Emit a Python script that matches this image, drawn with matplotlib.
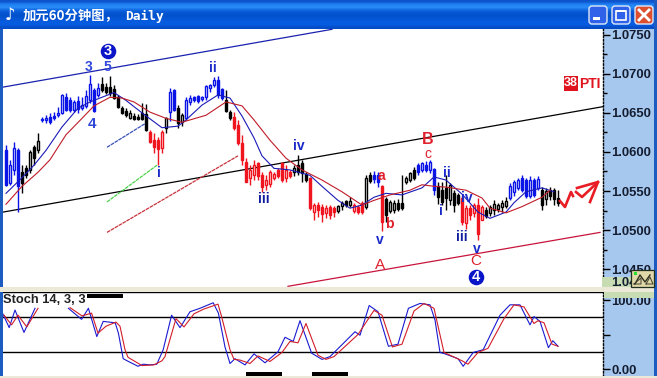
import numpy as np
import matplotlib
matplotlib.use("Agg")
import matplotlib.pyplot as plt
from matplotlib.patches import Rectangle, FancyBboxPatch
from matplotlib.ticker import FixedLocator

W, H = 657, 378

# Candles: (high, low, open, close) in pips above 1.0000, one run per colour
blue_a = [(609,556,602,558),(590,558,560,583),(613,570,577,605),(605,523,602,556)]
black_a = [(583,547,574,560),(583,567,579,570),(602,573,577,600),(609,583,606,592),(624,599,602,614)]
blue_b = [(645,638,641,642),(647,637,641,643),(650,636,645,638),(651,641,646,643),(658,645,647,650),
          (674,649,650,673),(676,652,670,654),(670,651,666,654),(666,651,654,664),(672,650,665,655),
          (670,654,656,660),(679,656,659,672),(698,663,666,687),(682,651,679,652),(688,670,673,682)]
black_b = [(696,677,687,679),(688,674,683,677),(697,672,683,676),(686,668,681,669),(673,656,670,658),
           (659,649,656,650),(656,645,652,647),(654,642,643,650),(650,641,646,642),(649,641,645,642),
           (663,641,650,642),(661,627,649,628)]
red_a = [(628,611,626,613),(624,599,615,606),(619,583,615,604),(628,599,605,626)]
black_c = [(645,624,631,643)]
blue_c = [(682,640,651,677),(681,652,679,654)]
black_d = [(660,631,656,637),(650,633,638,647)]
blue_d = [(670,641,643,666),(673,660,664,669),(672,664,670,666),(673,663,672,665),(672,665,668,670),
          (686,666,670,685),(687,677,682,686),(696,683,686,692),(697,669,692,673),(682,666,681,669)]
black_e = [(679,651,666,652),(654,641,651,643)]
red_b = [(651,628,645,631),(641,609,635,611),(622,583,611,590),(592,562,587,562),(583,558,567,577),
         (590,564,570,583),(587,564,586,569),(574,549,570,555),(570,551,558,564),(577,555,559,574),
         (574,564,567,572),(579,567,577,569),(587,562,586,564),(583,562,567,577),(577,567,574,569)]
black_f = [(583,569,574,579),(596,570,583,574),(590,562,586,573),(574,562,572,564)]
red_c = [(568,526,567,528),(535,513,523,532),(536,517,532,526),(533,510,530,521),(532,515,522,528),
         (532,514,530,519),(531,517,528,523)]
black_g = [(532,522,524,531),(537,526,531,535),(538,530,537,532),(542,530,532,537)]
red_d = [(535,522,524,532),(532,521,530,523),(537,521,535,523)]
black_h = [(570,527,530,567),(574,560,570,563)]
blue_e = [(576,560,570,565),(574,555,570,562)]
red_e = [(558,499,556,510)]
black_i = [(542,510,540,519),(538,522,524,536),(538,522,526,535),(540,524,535,527),(570,526,535,528),
           (569,559,562,567),(574,562,564,573),(581,564,577,567)]
blue_f = [(586,570,583,574),(587,574,577,586),(588,574,583,577),(590,573,577,587),(579,545,578,551)]
black_j = [(562,533,556,542),(562,532,551,536),(570,526,554,541),(560,532,538,558),(551,523,547,532),
           (547,532,545,535)]
red_f = [(545,506,541,510),(532,501,509,528),(532,513,528,519),(535,517,522,532),(541,487,532,495),
         (532,513,513,530)]
black_k = [(530,515,526,518),(532,518,522,530),(538,519,526,533),(535,523,527,532),(538,523,530,535),
           (542,528,531,537)]
blue_g = [(560,538,541,556),(564,544,549,562),(567,551,554,564),(570,549,567,551),(567,541,564,544),
          (569,541,544,564),(567,542,564,545),(569,551,554,565)]
black_l = [(555,526,551,532),(554,532,540,550),(555,538,551,544),(554,532,551,540),(551,531,541,535)]

BLUE, BLACK, RED = "#0a14e6", "#000000", "#f0141e"
runs = [(blue_a,BLUE),(black_a,BLACK),(blue_b,BLUE),(black_b,BLACK),(red_a,RED),(black_c,BLACK),(blue_c,BLUE),
        (black_d,BLACK),(blue_d,BLUE),(black_e,BLACK),(red_b,RED),(black_f,BLACK),(red_c,RED),(black_g,BLACK),
        (red_d,RED),(black_h,BLACK),(blue_e,BLUE),(red_e,RED),(black_i,BLACK),(blue_f,BLUE),(black_j,BLACK),
        (red_f,RED),(black_k,BLACK),(blue_g,BLUE),(black_l,BLACK)]

# Moving averages: (bar number, pips)
ma_fast_bar = [1,5,8,11,15,19,22,26,28,31,35,40,44,46,50,54,57,60,63,65,68,72,77,80,84,87,90,93,96,100,105,108,111,115,119,122,126,128,131,135,138]
ma_fast_val = [547,567,583,602,632,656,664,672,676,666,650,631,633,641,660,673,669,646,618,595,579,577,570,556,538,528,532,542,547,545,554,568,564,546,523,515,523,535,549,554,549]
ma_slow_bar = [1,5,9,12,16,20,23,27,30,33,37,41,45,47,51,56,60,63,67,71,75,80,85,90,93,97,102,105,108,111,116,120,122,126,130,135,137]
ma_slow_val = [533,556,574,590,622,643,659,670,669,664,651,643,638,641,647,664,659,641,615,592,577,564,549,532,538,545,551,558,556,555,551,541,528,522,530,542,551]

# Trend lines: ((bar, bar), (pips, pips))
line_upper = ((0.25, 82.5), (683, 757))
line_mid = ((0.25, 150.25), (523, 658))
line_lower = ((71.5, 149.5), (428, 497))
ray_blue = ((26.25, 36), (606, 637))
ray_green = ((26.25, 38.75), (536, 583))
ray_red = ((26.25, 59), (497, 595))

# Stochastic
k_bar_a = [0.2,1.8,3.25,5.5,8.25]
k_val_a = [80,60,85.5,53,88]
k_bar_b = [16.6,19.9,21.6,23.7,25.3,28.3,29.1,30.3,31.6,34,35.3,37,38.7,40.3,42.4,44.5,47,49.5,52.8,54.1,55.75,57,58.25,60.75,63,65.75,69,70.75,72.8,74.5,77.4,80,82,88.25,89.5,91.8,94,96.6,99,101.6,104.5,107,108.25,109.5,110.75,114,115.3,117.8,120.3,124.5,127,129.5,132,133,134.5,136.6,137.7,139]
k_val_b = [88,72,88,47,69,67,52,15,11,4,7,6,7,28,78,60,83,88,96,81,32,8,15,6,22,9,25,46,40,70,23,14,18,54,49,92,83,33,36,88,95,93,71,24,22,15,4,24,28,78,93,93,64,76,69,31,41,33]
d_bar_a = [0.5,2.4,4,6.2,9]
d_val_a = [78,64,78,61,88]
d_bar_b = [17,20,22.4,24,26,28.5,29.5,30.75,31.5,35,38,40,40.75,43.5,45.5,48,50.5,54,54.9,57,58,59.5,62,64,67,70,72,74,76,79,81,83,89,93,95,97.6,100,103,105.5,108,108.7,110.5,115,116.5,119,121.5,125.5,128,130.5,133,134,135.5,137.5,139]
d_val_b = [89,77,81,52,62,68,62,28,17,5,6,12,18,73,61,80,87,94,76,28,14,13,8,19,11,24,40,38,66,20,14,18,50,85,78,32,36,84,95,88,70,24,12,7,24,30,73,93,90,66,70,67,36,33]
stoch_levels = [76, 24]

price_ticks = [1.0750,1.0700,1.0650,1.0600,1.0550,1.0500,1.0450]

plt.rcParams["font.family"] = ["Liberation Sans", "DejaVu Sans"]
fig = plt.figure(figsize=(W/100, H/100), dpi=100, facecolor="#a6c8ee")

def pix_axes(x0, y0, x1, y1, **kw):
    return fig.add_axes([x0/W, 1-y1/H, (x1-x0)/W, (y1-y0)/H], **kw)

ax = pix_axes(3, 29, 603, 287)
ax.set_xlim(0.25, 150.25)
ax.set_ylim(1.04271, 1.07574)
sx = pix_axes(3, 292, 603, 376)
sx.set_xlim(0.25, 150.25)
sx.set_ylim(-10.1, 111.6)

px = lambda v: 1 + np.asarray(v) / 1e4

k = 0
for rows, col in runs:
    for h, l, o, c in rows:
        k += 1
        ax.vlines(k, px(l), px(h), color=col, lw=1.0, zorder=3)
        fill = col if c < o else "white"
        ax.bar(k, px(max(o, c)) - px(min(o, c)), bottom=px(min(o, c)), width=0.72,
               facecolor=fill, edgecolor=col, lw=1.0, zorder=4)

ax.plot(ma_fast_bar, px(ma_fast_val), color="#1a1ab8", lw=0.8, zorder=5)
ax.plot(ma_slow_bar, px(ma_slow_val), color="#c01c28", lw=0.8, zorder=5)
ax.plot(line_upper[0], px(line_upper[1]), color="#1a22b0", lw=0.9, zorder=2)
ax.plot(line_mid[0], px(line_mid[1]), color="black", lw=0.9, zorder=2)
ax.plot(line_lower[0], px(line_lower[1]), color="#c8143c", lw=0.9, zorder=2)
ax.plot(ray_blue[0], px(ray_blue[1]), color="#3a50b8", lw=0.9, ls=(0, (3, 0.6)), zorder=2)
ax.plot(ray_green[0], px(ray_green[1]), color="#4bd24b", lw=0.9, ls=(0, (3, 0.6)), zorder=2)
ax.plot(ray_red[0], px(ray_red[1]), color="#c8323c", lw=0.9, ls=(0, (3, 0.6)), zorder=2)

for a in (ax, sx):
    a.set_facecolor("white")
    a.set_xticks([])
    a.yaxis.tick_right()
    for s in ("left", "bottom"):
        a.spines[s].set_visible(False)
    a.spines["right"].set_linestyle((0, (1, 1.5)))
    a.spines["right"].set_linewidth(1.0)
ax.spines["top"].set_visible(False)
sx.spines["top"].set_linewidth(1.0)

ax.set_yticks(price_ticks, [f"{t:.4f}" for t in price_ticks])
ax.yaxis.set_minor_locator(FixedLocator([t + 0.0025 for t in price_ticks[1:]] + [1.0725 + 0.005]))
sx.set_yticks([0, 50, 100, 110], ["0.00", "", "100.00", "110.00"])
for a in (ax, sx):
    a.tick_params(axis="y", which="major", length=5, width=1, pad=1, labelsize=9.4, labelcolor="#141c30")
    a.tick_params(axis="y", which="minor", length=3, width=1)
    for t in a.get_yticklabels():
        t.set_fontweight("bold")

for level in stoch_levels:
    sx.axhline(level, color="black", lw=1.0, zorder=1)
sx.plot(k_bar_a, k_val_a, color="#1a1ad2", lw=0.8, zorder=3)
sx.plot(k_bar_b, k_val_b, color="#1a1ad2", lw=0.8, zorder=3)
sx.plot(d_bar_a, d_val_a, color="#d21e28", lw=0.8, zorder=4)
sx.plot(d_bar_b, d_val_b, color="#d21e28", lw=0.8, zorder=4)

# Front layer in figure pixels: window chrome and annotations
fg = fig.add_axes([0, 0, 1, 1], zorder=10)
fg.patch.set_alpha(0)
fg.axis("off")
grad = np.array([[0.05,0.33,0.80],[0.12,0.50,0.95],[0.16,0.55,0.97],[0.06,0.40,0.88],[0.02,0.33,0.82],
                 [0.01,0.32,0.80],[0.02,0.34,0.84],[0.03,0.36,0.87],[0.03,0.36,0.88],[0.02,0.30,0.78]])[:, None, :]
fg.imshow(grad, extent=(0, W, 29, 0), aspect="auto", interpolation="bilinear", zorder=1)
fg.set_xlim(0, W)
fg.set_ylim(H, 0)

R = lambda x, y, w, h, c, z=2: fg.add_patch(Rectangle((x, y), w, h, facecolor=c, edgecolor="none", zorder=z))
R(0, 29, 3, 349, "#1c5cc0")
R(654, 0, 3, 378, "#1c5cc0")
R(0, 376, 657, 2, "#ece9d8")
R(0, 287, 654, 5, "#ece9d8", 6)
R(602, 277, 52, 10, "#c8dcb4", 3)
R(604, 292, 50, 6, "#c8dcb4", 3)
fg.text(611, 283, "1.04", fontsize=9.4, fontweight="bold", color="#141c30", va="center", zorder=4)
# Chart-window icon
R(631, 270, 23, 17, "#e0d8a8", 7)
fg.add_patch(Rectangle((631, 270), 22.5, 16.5, facecolor="none", edgecolor="#203020", lw=0.9, zorder=8))
R(634, 272, 3, 3, "#28e030", 9)
fg.plot([635, 640, 645, 650], [284, 275, 282, 275], color="#303020", lw=1.0, zorder=9)
fg.plot([634, 641, 641, 634], [284, 284, 278, 284], color="#404030", lw=0.7, zorder=9)
fg.plot([646, 653, 650, 646], [284, 284, 277, 284], color="#404030", lw=0.7, zorder=9)

# Title bar
fg.text(10, 15.5, "♪", family="DejaVu Sans", fontsize=12, fontweight="bold", color="white", ha="center", va="center", zorder=3)
fg.text(23, 16, "加元60分钟图，", family="Noto Sans CJK SC", fontsize=9.6, fontweight="bold", color="white", va="center", zorder=3)
fg.text(125, 16, "Daily", family="DejaVu Sans Mono", fontsize=9.3, fontweight="bold", color="white", va="center", zorder=3)

for x0, col in ((589, "#2f62e8"), (612, "#2f62e8"), (635, "#dc5030")):
    fg.add_patch(FancyBboxPatch((x0, 6), 18, 18, boxstyle="round,pad=0,rounding_size=3",
                                facecolor=col, edgecolor="#dfe8f8", lw=1.0, zorder=3))
R(593, 17, 7, 3, "white", 4)
fg.add_patch(Rectangle((616, 11), 10, 9, facecolor="none", edgecolor="white", lw=1.2, zorder=4))
R(616, 10, 10, 2, "white", 4)
fg.plot([639, 649], [10, 20], color="white", lw=2, zorder=4)
fg.plot([649, 639], [10, 20], color="white", lw=2, zorder=4)

# Wave labels: text, x, y, colour, size, bold
WBLUE, WRED, SOFT = "#1a2ac8", "#e0202c", "#3048d8"
labels = [("3", 89, 67, SOFT, 10, True), ("5", 107, 67, SOFT, 10, True), ("4", 92, 124, SOFT, 11, True),
          ("ii", 213, 68, WBLUE, 10, True), ("i", 159, 173, WBLUE, 10, True), ("iv", 299, 146, WBLUE, 10, True),
          ("iii", 264, 199, "#101c9c", 10, True), ("v", 380, 240, WBLUE, 10, True), ("iii", 462, 237, "#101c9c", 10, True),
          ("v", 477, 249, WBLUE, 10, True), ("i", 441, 211, WBLUE, 10, True), ("ii", 447, 173, WBLUE, 10, True),
          ("iv", 467, 198, WBLUE, 10, True), ("A", 380, 265, WRED, 11, False), ("B", 428, 140, WRED, 11.5, True),
          ("C", 476, 261, WRED, 11, False), ("c", 428, 154, WRED, 10, False), ("b", 389, 224, WRED, 10, True),
          ("a", 381, 176, WRED, 10, True)]
for s, x, y, c, fs, b in labels:
    fg.text(x, y, s, color=c, fontsize=fs, ha="center", va="center", zorder=5,
            fontweight="bold" if b else "normal")
for s, x, y in (("3", 108, 51), ("4", 476, 277)):
    fg.scatter([x], [y], s=125, color="#0a14c8", linewidths=0, zorder=5)
    fg.text(x, y, s, color="white", fontsize=10.5, fontweight="bold", ha="center", va="center", zorder=6)

R(564, 76, 14, 15, "#e0141e", 5)
fg.text(571, 83.5, "38", color="white", fontsize=9, fontweight="bold", ha="center", va="center", zorder=6)
fg.text(579, 83.5, "PTI", color="#e0141e", fontsize=10, fontweight="bold", va="center", zorder=6)

fg.text(3, 300, "Stoch 14, 3, 3", color="#202020", fontsize=9.3, fontweight="bold", va="center", zorder=6)
R(87, 294, 36, 3.5, "black", 6)
R(246, 372, 36, 3.5, "black", 6)
R(312, 372, 36, 3.5, "black", 6)

# Hand-drawn forecast arrow
fg.plot([560, 565, 571, 573], [201, 207, 192, 196], color="#e81c24", lw=1.9, zorder=5)
fg.plot([576, 582, 598], [192, 197, 182], color="#e81c24", lw=1.9, zorder=5)
fg.plot([577, 598, 590], [188, 182, 202], color="#e81c24", lw=1.9, zorder=5)

fig.savefig("out.png", dpi=100)
